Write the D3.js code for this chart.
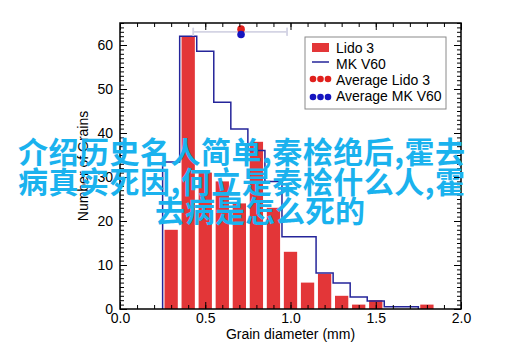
<!DOCTYPE html>
<html><head><meta charset="utf-8">
<script src="https://cdn.jsdelivr.net/npm/d3@7"></script>
<style>
html,body{margin:0;padding:0;background:#fff;}
svg{display:block;}
text{font-family:"Liberation Sans",Arial,sans-serif;}
</style></head>
<body>
<svg id="chart" width="515" height="359"></svg>
<script>
// ---- data ----
const binCenters = [0.3,0.4,0.5,0.6,0.7,0.8,0.9,1.0,1.1,1.2,1.3,1.4,1.5,1.6,1.7,1.8];
const lido3 = [18,62,31,29,24,38,23,13,6,8,3,1,2,0,0,1];
const mkEdges = [0.25,0.35,0.45,0.55,0.65,0.75,0.85,0.95,1.05,1.15,1.25,1.35,1.45,1.55,1.65,1.75];
const mkV60 = [33.4,62,58.6,47,40.9,36,29,16.4,16.4,8.2,5.9,2.7,1.8,0.5,0.5];
const avgNames = ["Average Lido 3","Average MK V60"];
const avgMean = [0.71,0.71];
const avgY = [63.6,62.4];
const avgLo = [0.43,0.43];
const avgHi = [0.98,0.98];
const xTicks = [0,0.5,1.0,1.5,2.0];
const yTicks = [0,10,20,30,40,50,60];
const legendLabels = ["Lido 3","MK V60","Average Lido 3","Average MK V60"];
const overlayLines = ["介绍历史名人简单,秦桧绝后,霍去","病真实死因,何立是秦桧什么人,霍","去病是怎么死的"];

// ---- layout ----
const L=120,R=461,T=23,B=309;
const svg=d3.select("#chart");
const x=d3.scaleLinear().domain([0,2]).range([L,R]);
const y=d3.scaleLinear().domain([0,65]).range([B,T]);
const RED="#e33638", NAVY="#25259a";

// bars
const bw=0.078;
svg.append("g").selectAll("rect").data(binCenters.map((c,i)=>({c,v:lido3[i]})).filter(d=>d.v>0))
 .join("rect")
 .attr("x",d=>x(d.c-bw/2)).attr("width",d=>x(d.c+bw/2)-x(d.c-bw/2))
 .attr("y",d=>y(d.v)).attr("height",d=>y(0)-y(d.v))
 .attr("fill",RED);

// step line
const stepPts=[{x:mkEdges[0],v:0}];
mkV60.forEach((v,i)=>{stepPts.push({x:mkEdges[i],v});});
stepPts.push({x:mkEdges[mkEdges.length-1],v:0});
const stepLine=d3.line().x(d=>x(d.x)).y(d=>y(d.v)).curve(d3.curveStepAfter);
svg.append("path").datum(stepPts).attr("d",stepLine)
 .attr("fill","none").attr("stroke",NAVY).attr("stroke-width",1.5);

// error bars + averages
const avgCol=["#e0201c","#1515c0"];
const eg=svg.append("g");
avgMean.forEach((m,i)=>{
  const yy=y(63);
  eg.append("line").attr("x1",x(avgLo[i])).attr("x2",x(avgHi[i])).attr("y1",yy).attr("y2",yy)
    .attr("stroke","#d4d4e4").attr("stroke-width",1.5);
  [avgLo[i],avgHi[i]].forEach(e=>eg.append("line").attr("x1",x(e)).attr("x2",x(e))
    .attr("y1",yy-4).attr("y2",yy+4).attr("stroke","#d4d4e4").attr("stroke-width",1.5));
});
avgMean.forEach((m,i)=>{
  eg.append("circle").attr("cx",x(m)).attr("cy",y(avgY[i])).attr("r",3.8).attr("fill",avgCol[i]);
});

// axes
const yAxL=d3.axisLeft(y).tickValues(d3.range(0,66,1)).tickSize(-4).tickFormat("");
const yAxLM=d3.axisLeft(y).tickValues(yTicks).tickSize(-7).tickPadding(7).tickFormat(d3.format("d"));
const yAxR=d3.axisRight(y).tickValues(d3.range(0,66,1)).tickSize(-4).tickFormat("");
const yAxRM=d3.axisRight(y).tickValues(yTicks).tickSize(-7).tickFormat("");
const xMinor=d3.range(0,21,1).map(d=>d/10);
const xAxB=d3.axisBottom(x).tickValues(xMinor).tickSize(-4).tickFormat("");
const xAxBM=d3.axisBottom(x).tickValues(xTicks).tickSize(-7).tickPadding(4).tickFormat(d3.format(".1f"));
const xAxT=d3.axisTop(x).tickValues(xMinor).tickSize(-4).tickFormat("");
const xAxTM=d3.axisTop(x).tickValues(xTicks).tickSize(-7).tickFormat("");
function styl(g){g.select(".domain").remove();g.selectAll("line").attr("stroke","#000").attr("stroke-width",1);
 g.attr("font-size",14).attr("font-family","Liberation Sans, Arial, sans-serif");
 g.selectAll("text").attr("font-size",14).attr("fill","#000");}
svg.append("g").attr("transform",`translate(${L},0)`).call(yAxL).call(styl);
svg.append("g").attr("transform",`translate(${L},0)`).call(yAxLM).call(styl);
svg.append("g").attr("transform",`translate(${R},0)`).call(yAxR).call(styl);
svg.append("g").attr("transform",`translate(${R},0)`).call(yAxRM).call(styl);
svg.append("g").attr("transform",`translate(0,${B})`).call(xAxB).call(styl);
svg.append("g").attr("transform",`translate(0,${B})`).call(xAxBM).call(styl);
svg.append("g").attr("transform",`translate(0,${T})`).call(xAxT).call(styl);
svg.append("g").attr("transform",`translate(0,${T})`).call(xAxTM).call(styl);
svg.append("rect").attr("x",L).attr("y",T).attr("width",R-L).attr("height",B-T)
 .attr("fill","none").attr("stroke","#000").attr("stroke-width",1.5);

// axis titles
svg.append("text").attr("x",(L+R)/2).attr("y",339).attr("text-anchor","middle")
 .attr("font-size",14).text("Grain diameter (mm)");
svg.append("text").attr("transform",`translate(88,166) rotate(-90)`).attr("text-anchor","middle")
 .attr("font-size",14).text("Number of Grains");

// legend
const lg=svg.append("g");
lg.append("rect").attr("x",305).attr("y",37).attr("width",141).attr("height",72)
 .attr("fill","#fff").attr("stroke","#8a8a8a").attr("stroke-width",1);
const rowY=[53,69,85,101];
lg.append("rect").attr("x",312).attr("y",43).attr("width",17).attr("height",9).attr("fill",RED);
lg.append("line").attr("x1",312).attr("x2",329).attr("y1",62).attr("y2",62).attr("stroke",NAVY).attr("stroke-width",1.5);
[0,1].forEach(i=>{[313,320.5,328].forEach(cx=>lg.append("circle").attr("cx",cx).attr("cy",[79,97][i]).attr("r",3.3).attr("fill",avgCol[i]));});
legendLabels.forEach((t,i)=>lg.append("text").attr("x",336).attr("y",rowY[i]).attr("font-size",14).text(t));

// overlay text
const ov=svg.append("g").attr("font-size",30).attr("font-weight",700).attr("fill","#1ab2ee");
const ovX=[18,18,155], ovY=[163,193,222], ovLen=[447,447,null];
overlayLines.forEach((t,i)=>{
  const tx=ov.append("text").attr("x",ovX[i]).attr("y",ovY[i]).style("font-family","'Noto Sans CJK SC'").text(t);
  if(ovLen[i]) tx.attr("textLength",ovLen[i]).attr("lengthAdjust","spacing");
});
</script>
</body></html>
